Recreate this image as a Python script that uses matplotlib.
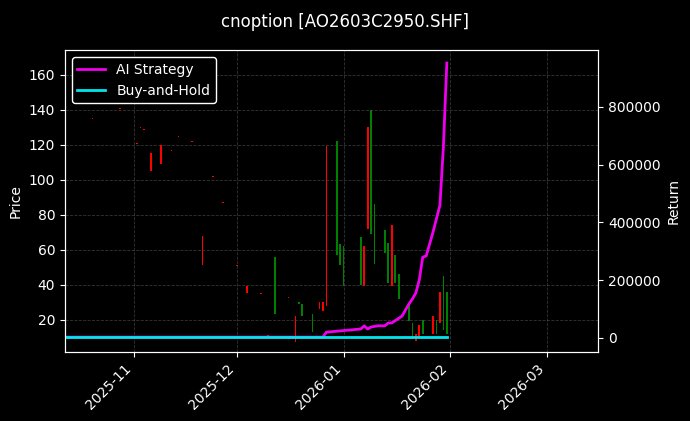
import numpy as np
import pandas as pd
import matplotlib
matplotlib.use('Agg')
import matplotlib.pyplot as plt
import matplotlib.dates as mdates

plt.style.use('dark_background')

# candles: date, open, close
candle_dates = ['2025-10-20', '2025-10-26', '2025-10-28', '2025-11-02', '2025-11-03', '2025-11-04',
                '2025-11-06', '2025-11-09', '2025-11-12', '2025-11-14', '2025-11-18', '2025-11-21',
                '2025-11-24', '2025-11-25', '2025-11-27', '2025-12-01', '2025-12-02', '2025-12-03',
                '2025-12-04', '2025-12-08', '2025-12-10', '2025-12-11', '2025-12-12', '2025-12-16',
                '2025-12-18', '2025-12-19', '2025-12-20', '2025-12-23', '2025-12-25', '2025-12-26',
                '2025-12-27', '2025-12-30', '2025-12-31', '2026-01-01', '2026-01-06', '2026-01-07',
                '2026-01-08', '2026-01-09', '2026-01-10', '2026-01-13', '2026-01-14', '2026-01-15',
                '2026-01-16', '2026-01-17', '2026-01-20', '2026-01-21', '2026-01-22', '2026-01-23',
                '2026-01-24', '2026-01-27', '2026-01-28', '2026-01-29', '2026-01-30', '2026-01-31']
opens = [135, 124, 141, 121, 130, 129,
         115, 120, 117, 125, 122, 68,
         102, 76, 87, 51, 60, 20,
         39, 35, 11, 16, 23, 33,
         22, 29, 22, 13, 30, 30,
         119, 57, 51, 39, 40, 62,
         130, 69, 52, 58, 41, 74,
         41, 32, 19, 9, 12, 17,
         12, 22, 12, 36, 14, 12]
closes = [134.5, 123.5, 140.5, 120.5, 129.5, 128.5,
          105, 109, 116.5, 124.5, 121.5, 51,
          101.5, 75.5, 86.5, 50.5, 59.5, 19.5,
          35, 34.5, 10.5, 15.5, 56, 32.5,
          7, 30, 29, 23, 26, 25,
          28, 122, 63, 62, 67, 39,
          72, 140, 86, 71, 64, 39,
          57, 46, 29, 18, 8, 10,
          20, 12, 20, 18, 45, 36]

# strategy curves
ai_dates = ['2025-10-11', '2025-12-26', '2025-12-27', '2026-01-06', '2026-01-07', '2026-01-08',
            '2026-01-09', '2026-01-11', '2026-01-13', '2026-01-14', '2026-01-15', '2026-01-18',
            '2026-01-20', '2026-01-21', '2026-01-22', '2026-01-23', '2026-01-24', '2026-01-25',
            '2026-01-27', '2026-01-29', '2026-01-30', '2026-01-31']
ai_values = [3000, 3000, 20000, 31000, 42000, 31000,
             38000, 42000, 42000, 52000, 52000, 76000,
             118000, 135000, 156000, 201000, 280000, 284000,
             367000, 460000, 661000, 952000]
bh_dates = ['2025-10-11', '2026-01-31']
bh_values = [3000, 3000]

cd = pd.to_datetime(candle_dates)
opens = np.array(opens, dtype=float)
closes = np.array(closes, dtype=float)
colors = ['green' if c > o else 'red' for o, c in zip(opens, closes)]

fig = plt.figure(figsize=(6.9, 4.21), dpi=100, facecolor='black')
ax = fig.add_axes([0.094, 0.164, 0.773, 0.717])
ax.set_facecolor('black')
ax.bar(cd, np.abs(closes - opens), bottom=np.minimum(opens, closes), width=0.5, color=colors, zorder=2)
ax.set_ylim(1.5, 174)
ax.set_xlim(pd.Timestamp('2025-10-12'), pd.Timestamp('2026-03-16'))
ax.set_ylabel('Price')
ax.grid(True, linestyle='--', color='gray', alpha=0.4, linewidth=0.6)
ax.xaxis.set_major_locator(mdates.MonthLocator())
ax.xaxis.set_major_formatter(mdates.DateFormatter('%Y-%m'))
plt.setp(ax.get_xticklabels(), rotation=45, ha='right')

ax2 = ax.twinx()
l1, = ax2.plot(pd.to_datetime(ai_dates), ai_values, color='#ee00ee', lw=2, label='AI Strategy')
l2, = ax2.plot(pd.to_datetime(bh_dates), bh_values, color='#00e5ee', lw=2, label='Buy-and-Hold')
ax2.set_ylim(-48500, 997000)
ax2.set_ylabel('Return')
ax2.legend(handles=[l1, l2], loc='upper left', facecolor='black', edgecolor='white', framealpha=1)

fig.suptitle('cnoption [AO2603C2950.SHF]', y=0.97)
fig.savefig('out.png', dpi=100, facecolor='black')
